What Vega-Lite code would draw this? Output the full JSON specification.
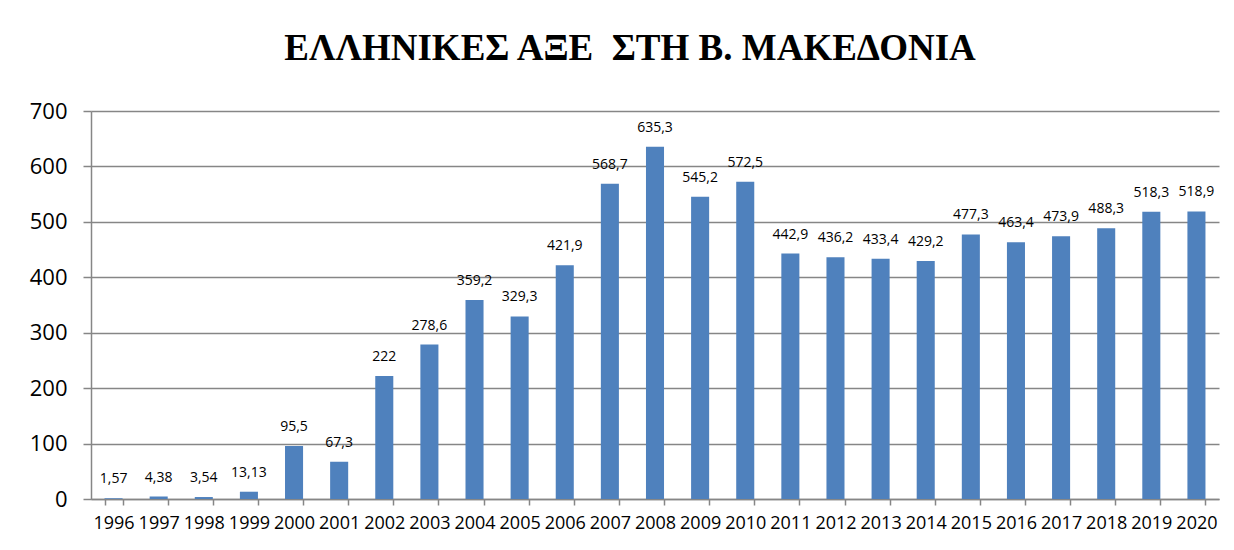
{
  "$schema": "https://vega.github.io/schema/vega-lite/v6.json",
  "autosize": {"type": "none"},
  "width": 1128,
  "height": 388,
  "padding": {"left": 91, "top": 111, "right": 15, "bottom": 51},
  "background": "white",
  "config": {
    "locale": {"number": {"decimal": ",", "thousands": ".", "grouping": [3], "currency": ["", " €"]}},
    "view": {"stroke": null},
    "font": "Open Sans"
  },
  "title": {
    "text": "ΕΛΛΗΝΙΚΕΣ ΑΞΕ\u00a0\u00a0ΣΤΗ Β. ΜΑΚΕΔΟΝΙΑ",
    "font": "Liberation Serif",
    "fontSize": 37,
    "fontWeight": "bold",
    "color": "black",
    "anchor": "middle",
    "dx": -25,
    "offset": 32
  },
  "data": {
    "values": [
      {"year": "1996", "value": 1.57},
      {"year": "1997", "value": 4.38},
      {"year": "1998", "value": 3.54},
      {"year": "1999", "value": 13.13},
      {"year": "2000", "value": 95.5},
      {"year": "2001", "value": 67.3},
      {"year": "2002", "value": 222},
      {"year": "2003", "value": 278.6},
      {"year": "2004", "value": 359.2},
      {"year": "2005", "value": 329.3},
      {"year": "2006", "value": 421.9},
      {"year": "2007", "value": 568.7},
      {"year": "2008", "value": 635.3},
      {"year": "2009", "value": 545.2},
      {"year": "2010", "value": 572.5},
      {"year": "2011", "value": 442.9},
      {"year": "2012", "value": 436.2},
      {"year": "2013", "value": 433.4},
      {"year": "2014", "value": 429.2},
      {"year": "2015", "value": 477.3},
      {"year": "2016", "value": 463.4},
      {"year": "2017", "value": 473.9},
      {"year": "2018", "value": 488.3},
      {"year": "2019", "value": 518.3},
      {"year": "2020", "value": 518.9}
    ]
  },
  "encoding": {
    "x": {
      "field": "year",
      "type": "ordinal",
      "scale": {"paddingInner": 0.6, "paddingOuter": 0.3},
      "axis": {
        "title": null,
        "labelAngle": 0,
        "labelFont": "Open Sans",
        "labelFontSize": 18,
        "labelColor": "black",
        "labelPadding": 9,
        "domainColor": "#868686",
        "domainWidth": 1.5,
        "tickColor": "#868686",
        "tickWidth": 1.5,
        "tickSize": 6,
        "tickBand": "extent",
        "grid": false
      }
    },
    "y": {
      "field": "value",
      "type": "quantitative",
      "scale": {"domain": [0, 700], "nice": false},
      "axis": {
        "title": null,
        "values": [0, 100, 200, 300, 400, 500, 600, 700],
        "labelFont": "Open Sans",
        "labelFontSize": 22,
        "labelColor": "black",
        "labelPadding": 16,
        "domainColor": "#868686",
        "domainWidth": 1.5,
        "tickColor": "#868686",
        "tickWidth": 1.5,
        "tickSize": 8,
        "grid": true,
        "gridColor": "#868686",
        "gridWidth": 1.5
      }
    }
  },
  "layer": [
    {
      "mark": {"type": "bar", "color": "#4F81BD"}
    },
    {
      "mark": {"type": "text", "baseline": "bottom", "dy": -12, "fontSize": 14, "font": "Open Sans", "color": "black"},
      "encoding": {
        "text": {"field": "value", "type": "quantitative", "format": ".5~r"}
      }
    }
  ]
}
